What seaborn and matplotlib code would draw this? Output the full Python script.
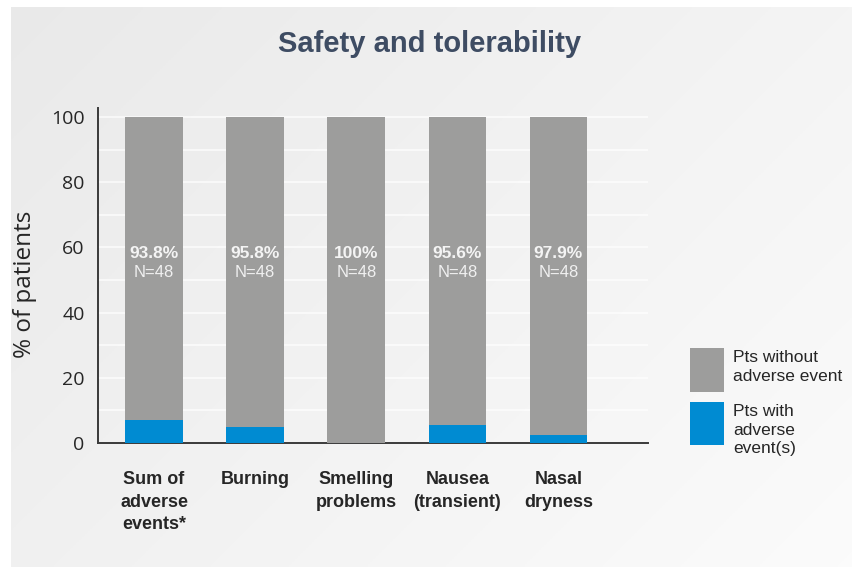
import numpy as np
import pandas as pd
import matplotlib
matplotlib.use("Agg")
import matplotlib.pyplot as plt
from matplotlib.patches import Rectangle
import seaborn as sns

# chart data
categories = ["Sum of\nadverse\nevents*", "Burning", "Smelling\nproblems",
              "Nausea\n(transient)", "Nasal\ndryness"]
total_pct = [100, 100, 100, 100, 100]
with_ae_pct = [7.2, 4.9, 0.0, 5.4, 2.4]
without_ae_labels = ["93.8%", "95.8%", "100%", "95.6%", "97.9%"]
n_labels = ["N=48", "N=48", "N=48", "N=48", "N=48"]
legend_labels = ["Pts without\nadverse event", "Pts with\nadverse\nevent(s)"]
y_ticks = [0, 20, 40, 60, 80, 100]

gray = "#9d9d9c"
blue = "#008bd2"
text_dark = "#262626"

df = pd.DataFrame({"Category": categories, "Total": total_pct, "With AE": with_ae_pct})

sns.set_theme(style="white")
plt.rcParams["font.family"] = ["Liberation Sans", "DejaVu Sans"]

W, H = 853, 567
fig = plt.figure(figsize=(W / 100, H / 100), dpi=100, facecolor="white")

# light diagonal gradient panel behind everything
bg = fig.add_axes([11 / W, 0, 1 - 11 / W, 1 - 7 / H], zorder=-5)
gx, gy = np.meshgrid(np.linspace(0, 1, 300), np.linspace(0, 1, 200))
shade = 0.915 + 0.07 * (0.6 * gx + 0.4 * gy)
bg.imshow(np.dstack([shade, shade, shade]), aspect="auto", extent=[0, 1, 0, 1], origin="upper")
bg.set_axis_off()

ax = fig.add_axes([98.5 / W, 1 - 443 / H, (648 - 98.5) / W, (443 - 108) / H])
ax.set_facecolor("none")

sns.barplot(data=df, x="Category", y="Total", color=gray, width=0.57,
            saturation=1, linewidth=0, ax=ax, zorder=3)
sns.barplot(data=df, x="Category", y="With AE", color=blue, width=0.57,
            saturation=1, linewidth=0, ax=ax, zorder=4)

ax.set_xlim(-0.55, 4.886)
ax.set_ylim(0, 102.8)

# gridlines every 10
ax.set_yticks(y_ticks)
ax.set_yticks(np.arange(10, 101, 20), minor=True)
ax.grid(axis="y", which="both", color="white", linewidth=1.2, alpha=0.75, zorder=0)
ax.set_axisbelow(True)
ax.tick_params(axis="y", which="both", length=0, pad=10, labelsize=14, labelcolor=text_dark)
for lbl in ax.get_yticklabels():
    lbl.set_fontfamily(["Open Sans", "DejaVu Sans"])

ax.set_xticks(range(len(categories)))
ax.set_xticklabels(categories, fontweight="bold", fontsize=13, color=text_dark, linespacing=1.45)
ax.tick_params(axis="x", which="major", length=0, pad=20)
ax.set_xticks([-0.55, 4.886], minor=True)
ax.tick_params(axis="x", which="minor", direction="in", length=9, width=1.4, color="#3a3a3a")

ax.set_xlabel("")
ax.set_ylabel("")
for side in ["top", "right"]:
    ax.spines[side].set_visible(False)
for side in ["left", "bottom"]:
    ax.spines[side].set_color("#3a3a3a")
    ax.spines[side].set_linewidth(1.4)

# labels inside the gray bars
for i, (pct, n) in enumerate(zip(without_ae_labels, n_labels)):
    ax.text(i, 58.3, pct, ha="center", va="center", color="#f4f4f4",
            fontsize=12.5, fontweight="bold", zorder=5)
    ax.text(i, 52.4, n, ha="center", va="center", color="#f0f0f0",
            fontsize=12, zorder=5)

fig.text(25 / W, 1 - 284 / H, "% of patients", rotation=90, ha="center", va="center",
         fontsize=17.5, color=text_dark, family=["Open Sans", "DejaVu Sans"])

fig.text(430 / W, 1 - 44 / H, "Safety and tolerability", ha="center", va="center",
         fontsize=21, fontweight="bold", color="#3e4c63")

# legend swatches
for (top, bottom), color, label in zip([(348, 392), (402, 445)], [gray, blue], legend_labels):
    fig.add_artist(Rectangle((690 / W, 1 - bottom / H), 34 / W, (bottom - top) / H,
                             transform=fig.transFigure, facecolor=color, edgecolor="none"))
    fig.text(733 / W, 1 - (top + 2) / H, label, ha="left", va="top", fontsize=12.5,
             color=text_dark, linespacing=1.3)

fig.savefig("out.png", dpi=100, facecolor="white")
